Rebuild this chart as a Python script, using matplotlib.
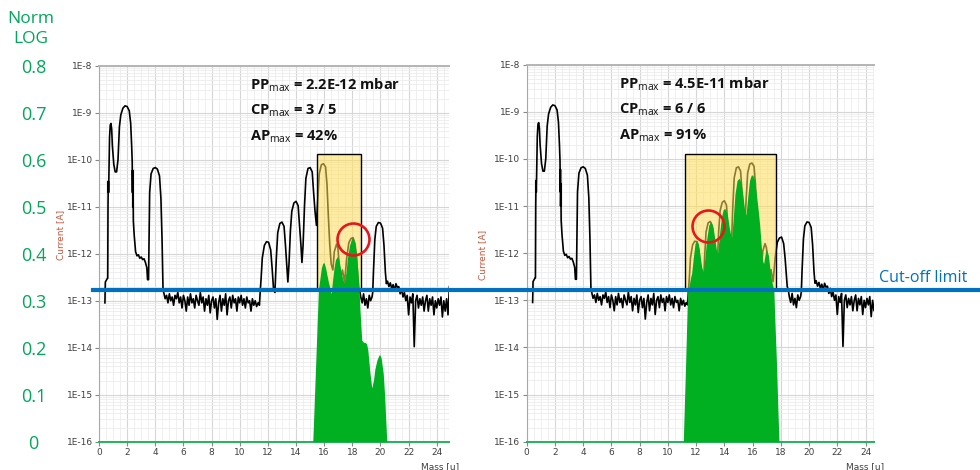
import matplotlib.pyplot as plt
from matplotlib.patches import Rectangle
from matplotlib.lines import Line2D
from matplotlib.ticker import FixedLocator, LogLocator, MultipleLocator, NullFormatter
import numpy as np

plt.rcParams["font.family"] = ["Open Sans", "DejaVu Sans"]
plt.rcParams["mathtext.fontset"] = "custom"
plt.rcParams["mathtext.rm"] = "Open Sans"

GREEN_TXT = "#00a859"
GREEN_FILL = "#00b020"
BLUE = "#0070c0"

# ---- mass spectrum (black trace); same trace in both panels ----
# low-mass peaks (H2 region, He ...)
seg_a_mass = [0.42, 0.45, 0.6, 0.62, 0.64, 0.66, 0.68, 0.7, 0.75, 0.8, 0.85, 0.9, 0.95, 1.05, 1.15,
              1.25, 1.35, 1.45, 1.55, 1.7, 1.85, 2.0, 2.15, 2.25, 2.32, 2.36, 2.38, 2.39, 2.4, 2.42,
              2.44, 2.5, 2.6, 2.7, 2.8, 2.9, 3.0, 3.1, 3.2, 3.3, 3.4, 3.45, 3.52, 3.56, 3.6, 3.7,
              3.85, 4.0, 4.15, 4.3, 4.4, 4.48, 4.55]
seg_a_cur = [9e-14, 2.5e-13, 3e-13, 3e-13, 1e-11, 3.5e-11, 2e-11, 4e-11, 3e-10, 5.5e-10, 5.9e-10,
             4.5e-10, 2e-10, 8e-11, 5.5e-11, 5.5e-11, 1e-10, 5e-10, 9e-10, 1.25e-9, 1.4e-9, 1.35e-9,
             1.1e-9, 6e-10, 2e-10, 9e-11, 2e-11, 6e-11, 1e-11, 3e-11, 5e-12, 2.5e-12, 1.1e-12,
             9e-13, 9.5e-13, 8e-13, 8.5e-13, 7.5e-13, 7.8e-13, 6.5e-13, 5e-13, 2.8e-13, 2.8e-13,
             2e-12, 2e-11, 5e-11, 6.5e-11, 6.8e-11, 6.3e-11, 4.5e-11, 1.5e-11, 2e-12, 1.7e-13]

# baseline noise 4.6 .. 11.4 (step 0.1), units of 1e-13 A
noise_1_start = 4.6
noise_1 = [1.5, 1.1, 1.3, 0.9, 1.4, 1.0, 1.2, 0.8, 1.3, 1.1, 1.5, 0.9, 1.2, 0.7, 1.3, 1.0, 0.6,
           1.2, 0.8, 1.4, 0.9, 1.1, 0.7, 1.3, 1.0, 0.8, 1.5, 0.9, 1.2, 0.6, 1.1, 0.8, 1.3, 0.55,
           1.0, 1.2, 0.7, 1.1, 0.4, 0.9, 1.3, 0.6, 1.1, 0.8, 1.4, 0.5, 1.0, 1.2, 0.7, 1.3, 0.9,
           1.1, 0.6, 1.2, 0.9, 1.3, 0.8, 1.1, 0.7, 1.2, 0.9, 1.0, 0.6, 1.1, 0.8, 1.0, 0.75, 0.9, 0.8]

# peaks 12 .. 18
seg_b_mass = [11.45, 11.52, 11.6, 11.75, 11.9, 12.05, 12.2, 12.3, 12.4, 12.5, 12.6, 12.7, 12.85,
              13.0, 13.15, 13.25, 13.35, 13.42, 13.5, 13.6, 13.7, 13.85, 14.0, 14.15, 14.25, 14.35,
              14.42, 14.5, 14.6, 14.7, 14.85, 15.0, 15.15, 15.25, 15.35, 15.45, 15.55, 15.65, 15.8,
              15.95, 16.1, 16.2, 16.3, 16.4, 16.5, 16.62, 16.72, 16.88, 16.98, 17.08, 17.18, 17.3,
              17.45, 17.6, 17.75, 17.9, 18.05, 18.2, 18.3, 18.45, 18.55]
seg_b_cur = [1.5e-13, 3e-13, 8e-13, 1.5e-12, 1.8e-12, 1.75e-12, 1.2e-12, 5e-13, 1.8e-13, 1.5e-13,
             8e-13, 2.8e-12, 4.4e-12, 4.7e-12, 3.8e-12, 1.5e-12, 5e-13, 2.5e-13, 6e-13, 3e-12, 8e-12,
             1.2e-11, 1.3e-11, 1.05e-11, 4e-12, 1.5e-12, 6.5e-13, 1.5e-12, 1e-11, 4e-11, 6.5e-11,
             6.8e-11, 5.5e-11, 2e-11, 8e-12, 4e-12, 1.5e-11, 5e-11, 7.8e-11, 8.2e-11, 7e-11, 3e-11,
             6e-12, 1.5e-12, 6e-13, 4.5e-13, 1.1e-12, 1.6e-12, 1.3e-12, 5e-13, 3e-13, 4.5e-13,
             2.5e-13, 8e-13, 1.7e-12, 2.1e-12, 2.2e-12, 1.6e-12, 8e-13, 2e-13, 1.5e-13]

# noise 18.6 .. 19.4 (step 0.1), units of 1e-13 A
noise_2_start = 18.6
noise_2 = [1.2, 0.9, 1.4, 0.8, 1.1, 0.7, 1.3, 1.0, 1.2]

# peak 20
seg_c_mass = [19.45, 19.5, 19.6, 19.7, 19.85, 20.0, 20.15, 20.25, 20.35, 20.42]
seg_c_cur = [1.5e-13, 4e-13, 2e-12, 3.8e-12, 4.6e-12, 4.5e-12, 3.5e-12, 1.5e-12, 4e-13, 2.3e-13]

# noise 20.5 .. 24.9 (step 0.1), units of 1e-13 A
noise_3_start = 20.5
noise_3 = [2.6, 2.0, 2.4, 1.8, 2.2, 1.6, 2.3, 1.9, 2.0, 1.4, 1.8, 1.2, 1.5, 1.0, 1.3, 0.5, 1.2,
           0.9, 1.4, 0.105, 1.0, 1.3, 0.7, 1.1, 0.8, 1.2, 0.6, 1.0, 1.3, 0.6, 1.1, 0.8, 1.2, 0.5,
           1.0, 0.7, 1.1, 0.8, 1.2, 0.45, 1.0, 0.6, 1.1, 0.5, 2.0]

# ---- green (normalised) fills ----
green_l_mass = [15.19, 15.39, 15.59, 15.7, 15.8, 15.9, 16.0, 16.1, 16.2, 16.3, 16.4, 16.49, 16.6,
                16.7, 16.8, 16.94, 17.05, 17.15, 17.25, 17.35, 17.43, 17.55, 17.65, 17.8, 17.95,
                18.05, 18.15, 18.3, 18.4, 18.48, 18.55, 18.67, 18.8, 18.9, 19.02, 19.1, 19.25,
                19.38, 19.5, 19.6, 19.75, 19.9, 19.97, 20.05, 20.2, 20.3, 20.45]
green_l_cur = [1e-16, 4e-15, 1.7e-13, 3e-13, 5e-13, 6.3e-13, 6.4e-13, 5e-13, 3.5e-13, 2.5e-13, 1.9e-13,
               1.4e-13, 2.8e-13, 5e-13, 7.5e-13, 8.7e-13, 7.5e-13, 5e-13, 3.5e-13, 2.7e-13, 2.4e-13,
               4e-13, 8e-13, 1.5e-12, 2.1e-12, 2.2e-12, 1.8e-12, 1e-12, 4e-13, 1.7e-13, 6e-14,
               1.45e-14, 1.3e-14, 1.3e-14, 1.2e-14, 9e-15, 3e-15, 1.4e-15, 2e-15, 3.5e-15, 5.5e-15,
               7e-15, 7e-15, 6e-15, 2.8e-15, 9e-16, 1e-16]

green_r_mass = [11.09, 11.25, 11.4, 11.5, 11.6, 11.68, 11.8, 11.92, 12.04, 12.15, 12.3, 12.4, 12.51,
                12.62, 12.75, 12.9, 13.05, 13.2, 13.35, 13.45, 13.53, 13.65, 13.8, 13.92, 14.04,
                14.18, 14.35, 14.45, 14.52, 14.62, 14.75, 14.9, 15.04, 15.18, 15.3, 15.42, 15.53,
                15.65, 15.78, 15.9, 16.0, 16.12, 16.25, 16.4, 16.5, 16.6, 16.7, 16.78, 16.9, 17.0,
                17.12, 17.25, 17.4, 17.5, 17.6, 17.7, 17.8, 17.87]
green_r_cur = [1e-16, 4e-15, 1.7e-13, 2e-13, 3e-13, 3.7e-13, 8e-13, 1.6e-12, 1.9e-12, 1.6e-12, 8e-13,
               5e-13, 4e-13, 8e-13, 2e-12, 4e-12, 4.7e-12, 3.5e-12, 1.8e-12, 1.1e-12, 1e-12, 2.5e-12,
               6e-12, 8.5e-12, 8.9e-12, 7e-12, 3.5e-12, 2.4e-12, 2.2e-12, 5e-12, 1.8e-11, 3.5e-11,
               3.9e-11, 3.2e-11, 1.8e-11, 9e-12, 6.4e-12, 1.5e-11, 3.5e-11, 4.5e-11, 4.6e-11,
               3.8e-11, 2e-11, 8e-12, 4e-12, 1.6e-12, 7e-13, 6e-13, 1e-12, 1.2e-12, 9e-13, 4e-13,
               2.2e-13, 1.7e-13, 2.5e-14, 4e-15, 4e-16, 1e-16]

# ---- panel annotations ----
box_l = (15.47, 18.62)
box_r = (11.23, 17.68)
BOX_TOP = 1.3e-10
CUTOFF = 1.7e-13
circle_l = (18.07, 2.1e-12)
circle_r = (12.82, 3.8e-12)
text_l = ["2.2E-12 mbar", "3 / 5", "42%"]
text_r = ["4.5E-11 mbar", "6 / 6", "91%"]

y_ticks = [1e-8, 1e-9, 1e-10, 1e-11, 1e-12, 1e-13, 1e-14, 1e-15, 1e-16]
y_tick_labels = ["1E-8", "1E-9", "1E-10", "1E-11", "1E-12", "1E-13", "1E-14", "1E-15", "1E-16"]
x_ticks = list(range(0, 25, 2))
norm_ticks = [0.8, 0.7, 0.6, 0.5, 0.4, 0.3, 0.2, 0.1, 0.0]
norm_labels = ["0.8", "0.7", "0.6", "0.5", "0.4", "0.3", "0.2", "0.1", "0"]


def noise_seg(start, vals):
    m = start + 0.1 * np.arange(len(vals))
    return list(m), list(np.array(vals) * 1e-13)


n1m, n1c = noise_seg(noise_1_start, noise_1)
n2m, n2c = noise_seg(noise_2_start, noise_2)
n3m, n3c = noise_seg(noise_3_start, noise_3)
spec_mass = seg_a_mass + n1m + seg_b_mass + n2m + seg_c_mass + n3m
spec_cur = seg_a_cur + n1c + seg_b_cur + n2c + seg_c_cur + n3c


def draw_panel(ax, xmax, box, g_mass, g_cur, circ, texts, text_x, ylab_xy):
    ax.set_yscale("log")
    ax.set_xlim(0, xmax)
    ax.set_ylim(1e-16, 1e-8)
    ax.yaxis.set_major_locator(FixedLocator(y_ticks))
    ax.set_yticklabels(y_tick_labels)
    ax.yaxis.set_minor_locator(LogLocator(base=10, subs=np.arange(2, 10)))
    ax.yaxis.set_minor_formatter(NullFormatter())
    ax.set_xticks(x_ticks)
    ax.xaxis.set_minor_locator(MultipleLocator(0.5))
    ax.grid(which="major", color="#d6d6d6", lw=0.8)
    ax.grid(which="minor", color="#ececec", lw=0.6)
    ax.set_axisbelow(True)
    ax.tick_params(which="major", length=3, width=0.8, color="#888888", labelsize=6.5,
                   labelcolor="#404040", pad=1.5)
    ax.tick_params(which="minor", length=0)
    for lab in ax.get_xticklabels() + ax.get_yticklabels():
        lab.set_family("DejaVu Sans")
    ax.spines["right"].set_visible(False)
    ax.spines["top"].set_color("#b4b4b4")
    ax.spines["top"].set_linewidth(1.4)
    ax.spines["left"].set_color("#a8a8a8")
    ax.spines["bottom"].set_color("#1fb45a")
    ax.spines["bottom"].set_linewidth(1.4)

    ax.plot(spec_mass, spec_cur, color="black", lw=1.2, zorder=2)
    ax.add_patch(Rectangle((box[0], CUTOFF), box[1] - box[0], BOX_TOP - CUTOFF,
                           facecolor=(1.0, 0.87, 0.35, 0.55), edgecolor="black", lw=1.0, zorder=3))
    ax.fill_between(g_mass, 1e-16, g_cur, color=GREEN_FILL, lw=0, zorder=4)
    ax.plot([circ[0]], [circ[1]], marker="o", ms=23, mfc="none", mec="#e8151b", mew=1.9, zorder=5)

    names = ["PP", "CP", "AP"]
    for i, (nm, val) in enumerate(zip(names, texts)):
        ax.text(text_x, 0.948 - i * 0.068, nm + r"$_{\mathrm{max}}$" + " = " + val,
                transform=ax.transAxes, fontsize=10.5, fontweight="bold", color="#111111",
                ha="left", va="center", zorder=6)

    ax.set_ylabel("Current [A]", fontsize=6.5, color="#c8553d", family="DejaVu Sans")
    ax.yaxis.set_label_coords(*ylab_xy)
    ax.text(0.92, -0.066, "Mass [u]", transform=ax.transAxes, fontsize=6.5, color="#404040",
            family="DejaVu Sans", ha="left", va="center")


fig = plt.figure(figsize=(9.8, 4.7), dpi=100)
ax1 = fig.add_axes([99 / 980, 28.3 / 470, 350 / 980, 376 / 470])
ax2 = fig.add_axes([526.7 / 980, 28.3 / 470, 347.6 / 980, 377 / 470])

draw_panel(ax1, 24.87, box_l, green_l_mass, green_l_cur, circle_l, text_l, 0.431, (-0.097, 0.55))
draw_panel(ax2, 24.62, box_r, green_r_mass, green_r_cur, circle_r, text_r, 0.266, (-0.114, 0.495))

# normalised log scale on the far left
axn = ax1.twinx()
axn.set_ylim(0, 0.8)
axn.yaxis.tick_left()
axn.set_yticks(norm_ticks)
axn.set_yticklabels(norm_labels, color=GREEN_TXT, fontsize=13, ha="center")
axn.tick_params(axis="y", length=0, pad=47)
for s in axn.spines.values():
    s.set_visible(False)
fig.text(31 / 980, 1 - 29 / 470, "Norm\nLOG", color=GREEN_TXT, fontsize=12.5, ha="center",
         va="center", linespacing=1.4)

# cut-off limit line across the whole figure
y_disp = ax1.transData.transform((0, CUTOFF))[1]
y_fig = fig.transFigure.inverted().transform((0, y_disp))[1]
fig.add_artist(Line2D([93 / 980, 1.0], [y_fig, y_fig], color=BLUE, lw=3.0, zorder=10))
fig.text(923 / 980, y_fig + 4 / 470, "Cut-off limit", color=BLUE, fontsize=11.5,
         ha="center", va="bottom")

fig.savefig("out.png", dpi=100)
